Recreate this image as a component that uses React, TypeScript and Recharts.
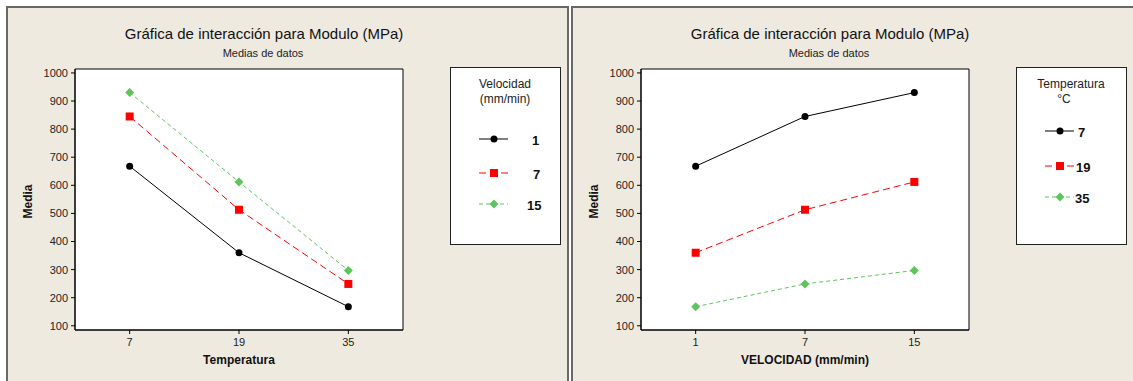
import { CartesianGrid, Label, Line, LineChart, ReferenceArea, XAxis, YAxis } from 'recharts';

// factor levels
const temperaturas = ['7', '19', '35'];
const velocidades = ['1', '7', '15'];

// mean modulus (MPa) per temperature, one array per speed level
const mediaVel1 = [668, 360, 168];
const mediaVel7 = [845, 513, 249];
const mediaVel15 = [930, 612, 297];

const mediaTicks = [100, 200, 300, 400, 500, 600, 700, 800, 900, 1000];
const mediaDomain: [number, number] = [85, 1014];
// levels sit at 0,1,2 with half a step of room on each side
const nivelDomain: [number, number] = [-0.5, 2.5];

const FONT = '"Liberation Sans", Arial, sans-serif';
const BEIGE = '#EEEAE0';

type Marker = 'circle' | 'square' | 'diamond';

interface SerieStyle {
  color: string;
  dash?: string;
  marker: Marker;
}

const styles: SerieStyle[] = [
  { color: '#000000', marker: 'circle' },
  { color: '#FF0000', dash: '7 4', marker: 'square' },
  { color: '#5CC55C', dash: '4 3', marker: 'diamond' },
];

function MarkerShape({ cx, cy, style }: { cx: number; cy: number; style: SerieStyle }) {
  if (style.marker === 'circle') {
    return <circle cx={cx} cy={cy} r={3.5} fill={style.color} />;
  }
  if (style.marker === 'square') {
    return <rect x={cx - 4} y={cy - 4} width={8} height={8} fill={style.color} />;
  }
  return (
    <polygon
      points={`${cx},${cy - 4.5} ${cx + 4.5},${cy} ${cx},${cy + 4.5} ${cx - 4.5},${cy}`}
      fill={style.color}
    />
  );
}

const velSeries = [mediaVel1, mediaVel7, mediaVel15];

// left plot: x = temperatura, one line per velocidad
const porTemperatura = temperaturas.map((t, i) => {
  const row: Record<string, number> = { idx: i };
  velocidades.forEach((v, j) => {
    row[`s${j}`] = velSeries[j][i];
  });
  return row;
});

// right plot: x = velocidad, one line per temperatura
const porVelocidad = velocidades.map((v, j) => {
  const row: Record<string, number> = { idx: j };
  temperaturas.forEach((t, i) => {
    row[`s${i}`] = velSeries[j][i];
  });
  return row;
});

interface PanelProps {
  left: number;
  data: Record<string, number>[];
  levels: string[];
  names: string[];
  xLabel: string;
  legendTitle: string[];
  legendLabelX: number[];
  legendRows: number[];
}

function Panel({ left, data, levels, names, xLabel, legendTitle, legendLabelX, legendRows }: PanelProps) {
  return (
    <div style={{ position: 'absolute', left, top: 0, width: 567, height: 381 }}>
      <LineChart
        width={567}
        height={381}
        data={data}
        margin={{ top: 69, right: 164, bottom: 15, left: 30 }}
      >
        <CartesianGrid horizontal={false} vertical={false} fill="#FFFFFF" fillOpacity={1} />
        <XAxis
          dataKey="idx"
          type="number"
          domain={nivelDomain}
          ticks={levels.map((_, k) => k)}
          tickFormatter={(v: number) => levels[v]}
          interval={0}
          height={36}
          stroke="#000"
          tickSize={4}
          tickMargin={4}
          tick={{ fontSize: 11, fill: '#222', fontFamily: FONT }}
        >
          <Label
            position="insideBottom"
            offset={0}
            content={({ viewBox }) => {
              const vb = viewBox as { x: number; y: number; width: number; height: number };
              return (
                <text
                  x={vb.x + vb.width / 2}
                  y={vb.y + vb.height - 2}
                  textAnchor="middle"
                  fontFamily={FONT}
                  fontSize={12}
                  fontWeight="bold"
                  fill="#111"
                >
                  {xLabel}
                </text>
              );
            }}
          />
        </XAxis>
        <YAxis
          width={45}
          domain={mediaDomain}
          ticks={mediaTicks}
          interval={0}
          stroke="#000"
          tickSize={4}
          tickMargin={3}
          tick={{ fontSize: 11, fill: '#222', fontFamily: FONT }}
        >
          <Label
            content={({ viewBox }) => {
              const vb = viewBox as { x: number; y: number; width: number; height: number };
              const cx = 28;
              const cy = vb.y + vb.height / 2 + 2;
              return (
                <text
                  x={cx}
                  y={cy}
                  transform={`rotate(-90 ${cx} ${cy})`}
                  textAnchor="middle"
                  dominantBaseline="central"
                  fontFamily={FONT}
                  fontSize={12}
                  fontWeight="bold"
                  fill="#111"
                >
                  Media
                </text>
              );
            }}
          />
        </YAxis>
        {/* frame around the plot area */}
        <ReferenceArea
          x1={nivelDomain[0]}
          x2={nivelDomain[1]}
          y1={mediaDomain[0]}
          y2={mediaDomain[1]}
          fill="none"
          stroke="#000"
          strokeWidth={1}
        />
        {names.map((n, i) => (
          <Line
            key={n}
            dataKey={`s${i}`}
            name={n}
            stroke={styles[i].color}
            strokeWidth={1}
            strokeDasharray={styles[i].dash}
            isAnimationActive={false}
            dot={(p: { cx: number; cy: number; index: number }) => (
              <MarkerShape key={p.index} cx={p.cx} cy={p.cy} style={styles[i]} />
            )}
            activeDot={false}
          />
        ))}
      </LineChart>

      {/* titles */}
      <div
        style={{
          position: 'absolute',
          left: 0,
          width: 528,
          top: 25,
          textAlign: 'center',
          fontFamily: FONT,
          fontSize: 15,
          color: '#111',
        }}
      >
        Gráfica de interacción para Modulo (MPa)
      </div>
      <div
        style={{
          position: 'absolute',
          left: 0,
          width: 526,
          top: 47,
          textAlign: 'center',
          fontFamily: FONT,
          fontSize: 11,
          color: '#222',
        }}
      >
        Medias de datos
      </div>

      {/* legend */}
      <svg
        style={{ position: 'absolute', left: 450, top: 67 }}
        width={112}
        height={179}
      >
        <rect x={0.5} y={0.5} width={110} height={177} fill="#FFFFFF" stroke="#222" />
        {legendTitle.map((t, k) => (
          <text
            key={t}
            x={55 - (k === 1 && legendTitle[0] === 'Temperatura' ? 7 : 0)}
            y={21 + k * 15}
            textAnchor="middle"
            fontFamily={FONT}
            fontSize={12}
            fill="#222"
          >
            {t}
          </text>
        ))}
        {names.map((n, i) => {
          const y = legendRows[i];
          return (
            <g key={n}>
              <line
                x1={29}
                x2={58}
                y1={y}
                y2={y}
                stroke={styles[i].color}
                strokeDasharray={styles[i].dash}
              />
              <MarkerShape cx={44} cy={y} style={styles[i]} />
              <text
                x={legendLabelX[i]}
                y={y + 6}
                fontFamily={FONT}
                fontSize={13}
                fontWeight="bold"
                fill="#111"
              >
                {n}
              </text>
            </g>
          );
        })}
      </svg>
    </div>
  );
}

export default function App() {
  return (
    <div
      style={{
        position: 'absolute',
        left: 0,
        top: 0,
        width: 1133,
        height: 381,
        overflow: 'hidden',
        background: '#FFFFFF',
      }}
    >
      <div
        style={{
          position: 'absolute',
          left: 6,
          top: 6,
          width: 559,
          height: 400,
          background: BEIGE,
          border: '2px solid #686868',
        }}
      />
      <div
        style={{
          position: 'absolute',
          left: 571,
          top: 6,
          width: 600,
          height: 400,
          background: BEIGE,
          border: '2px solid #686868',
        }}
      />
      <Panel
        left={0}
        data={porTemperatura}
        levels={temperaturas}
        names={velocidades}
        xLabel="Temperatura"
        legendTitle={['Velocidad', '(mm/min)']}
        legendLabelX={[82, 83, 77]}
        legendRows={[72, 106, 137]}
      />
      <Panel
        left={566}
        data={porVelocidad}
        levels={velocidades}
        names={temperaturas}
        xLabel="VELOCIDAD (mm/min)"
        legendTitle={['Temperatura', '°C']}
        legendLabelX={[62, 60, 59]}
        legendRows={[64, 99, 130]}
      />
    </div>
  );
}
